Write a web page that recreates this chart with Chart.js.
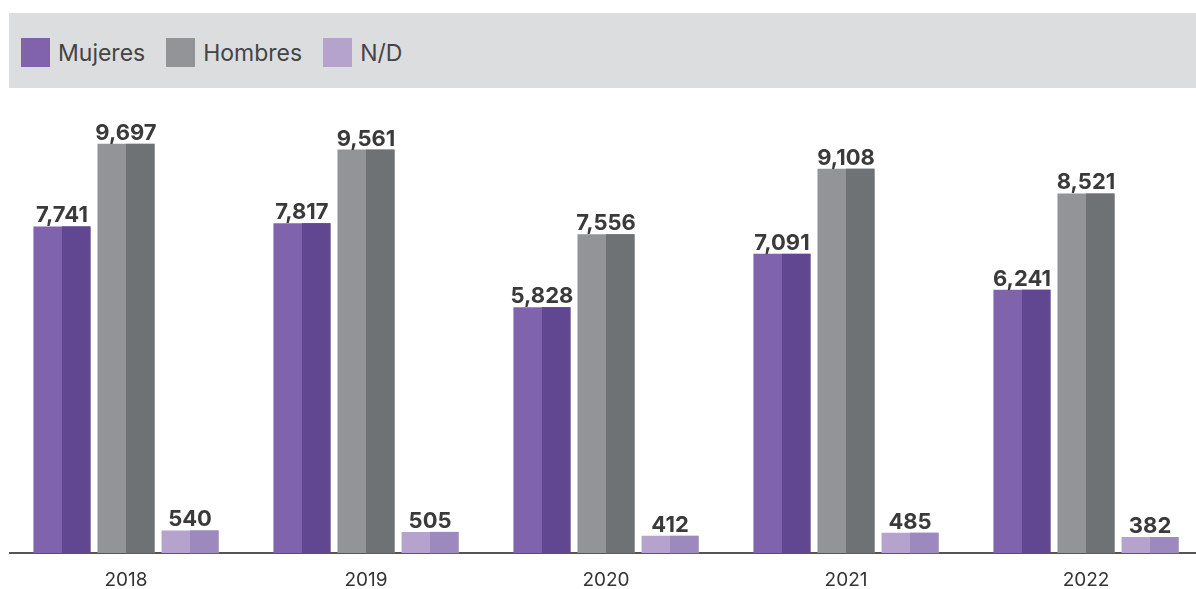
<!DOCTYPE html>
<html>
<head>
<meta charset="utf-8">
<script src="https://cdn.jsdelivr.net/npm/chart.js@4/dist/chart.umd.min.js"></script>
<style>
  html, body { margin: 0; padding: 0; background: #ffffff; width: 1196px; height: 589px; overflow: hidden; }
  #legend { position: absolute; left: 9px; top: 13px; width: 1187px; height: 75px; background: #DCDDDF;
            display: flex; align-items: center; padding-left: 12px; padding-top: 4px; box-sizing: border-box;
            font-family: Inter, "Noto Sans", sans-serif; font-size: 23px; color: #444; }
  .item { display: flex; align-items: center; margin-right: 21px; }
  .sw { width: 29px; height: 29px; margin-right: 8px; }
  #wrap { position: absolute; left: 9px; top: 0; width: 1187px; height: 589px; overflow: hidden; }
  #c { position: absolute; left: -3px; top: 0; }
</style>
</head>
<body>
<div id="legend"></div>
<div id="wrap"><canvas id="c" width="1200" height="608"></canvas></div>
<script>
const categories = ['2018', '2019', '2020', '2021', '2022'];
const seriesNames = ['Mujeres', 'Hombres', 'N/D'];
const mujeres = [7741, 7817, 5828, 7091, 6241];
const hombres = [9697, 9561, 7556, 9108, 8521];
const nd = [540, 505, 412, 485, 382];
const lightColors = ['#7F63AC', '#939498', '#B5A3CE'];
const darkColors = ['#614791', '#6F7275', '#9C89BE'];
const legendColors = ['#8063AB', '#939497', '#B5A3CD'];

// HTML legend
const lg = document.getElementById('legend');
seriesNames.forEach((n, i) => {
  const it = document.createElement('div'); it.className = 'item';
  const sw = document.createElement('div'); sw.className = 'sw'; sw.style.background = legendColors[i];
  const tx = document.createElement('span'); tx.textContent = n;
  it.appendChild(sw); it.appendChild(tx); lg.appendChild(it);
});

const twoTone = {
  id: 'twoTone',
  afterDatasetDraw(chart, args) {
    const ctx = chart.ctx;
    const meta = args.meta;
    ctx.save();
    ctx.fillStyle = darkColors[args.index];
    meta.data.forEach(bar => {
      const p = bar.getProps(['x', 'y', 'base', 'width'], true);
      ctx.fillRect(p.x, p.y, p.width / 2, p.base - p.y);
    });
    ctx.restore();
  }
};

const valueLabels = {
  id: 'valueLabels',
  afterDatasetsDraw(chart) {
    const ctx = chart.ctx;
    ctx.save();
    ctx.font = '700 22px Inter, "Noto Sans", sans-serif';
    ctx.fillStyle = '#3a3a3a';
    ctx.textAlign = 'center';
    ctx.textBaseline = 'alphabetic';
    chart.data.datasets.forEach((ds, di) => {
      chart.getDatasetMeta(di).data.forEach((bar, i) => {
        const p = bar.getProps(['x', 'y'], true);
        ctx.fillText(ds.data[i].toLocaleString('en-US'), p.x, p.y - 4);
      });
    });
    ctx.restore();
  }
};

const series = [mujeres, hombres, nd];
new Chart(document.getElementById('c'), {
  type: 'bar',
  data: {
    labels: categories,
    datasets: series.map((d, i) => ({
      label: seriesNames[i],
      data: d,
      backgroundColor: lightColors[i],
      borderWidth: 0,
      categoryPercentage: 0.8007,
      barPercentage: 0.8906
    }))
  },
  options: {
    responsive: false,
    animation: false,
    devicePixelRatio: 1,
    layout: { padding: { top: 100, left: 0, right: 0, bottom: 0 } },
    plugins: { legend: { display: false }, tooltip: { enabled: false } },
    scales: {
      x: {
        grid: { display: false, drawTicks: false },
        border: { display: true, color: '#555555', width: 2 },
        ticks: { color: '#333333', padding: 16, font: { family: 'Inter, "Noto Sans", sans-serif', size: 19 } }
      },
      y: {
        display: false,
        min: 0,
        max: 10735
      }
    }
  },
  plugins: [twoTone, valueLabels]
});
</script>
</body>
</html>
